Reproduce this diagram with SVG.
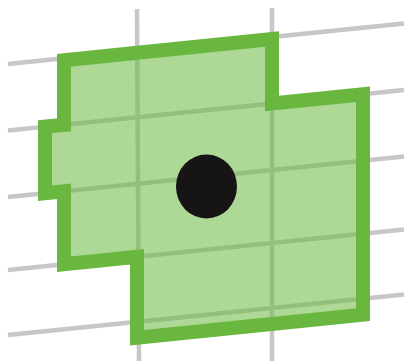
<svg xmlns="http://www.w3.org/2000/svg" width="408" height="361" viewBox="0 0 408 361">
  <style>
    .grid { stroke: #c9c6c7; stroke-width: 4.5; fill: none; stroke-linecap: butt; }
    .region { fill: #6cb944; fill-opacity: 0.56; stroke: #69b73f; stroke-width: 14; stroke-linejoin: miter; stroke-miterlimit: 10; }
    .dot { fill: #161414; }
  </style>
  <rect x="0" y="0" width="408" height="361" fill="#ffffff"/>
  <g id="grid">
    <line class="grid" x1="8" y1="64" x2="404" y2="23.5"/>
    <line class="grid" x1="8" y1="130.5" x2="404" y2="90"/>
    <line class="grid" x1="8" y1="197" x2="404" y2="156.5"/>
    <line class="grid" x1="8" y1="270" x2="404" y2="229.5"/>
    <line class="grid" x1="8" y1="335" x2="404" y2="294.5"/>
    <line class="grid" x1="137" y1="9" x2="139" y2="361"/>
    <line class="grid" x1="272" y1="8" x2="272" y2="361"/>
  </g>
  <g id="region">
    <polygon class="region" points="64,60.3 272,39 272,103.5 363,94.2 363,314.7 137,337.8 137,256.8 64,264.3 64,191.3 45,193.2 45,126.7 64,124.8"/>
  </g>
  <g id="point">
    <ellipse class="dot" cx="206.5" cy="186.5" rx="30.5" ry="32"/>
  </g>
</svg>
